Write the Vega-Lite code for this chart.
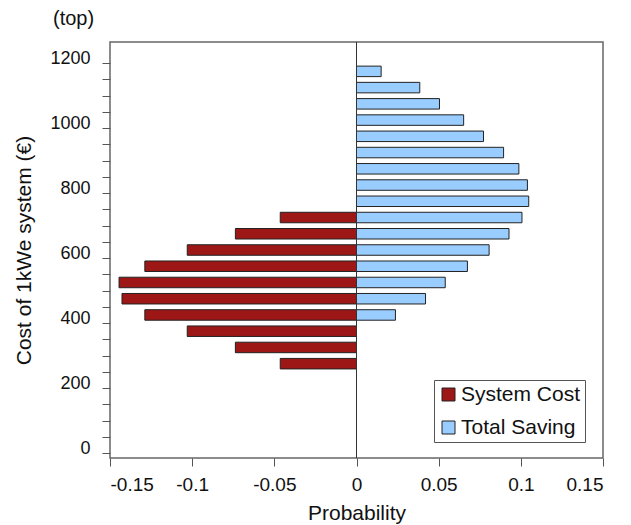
{
  "$schema": "https://vega.github.io/schema/vega-lite/v6.json",
  "width": 493,
  "height": 416,
  "autosize": {"type": "none"},
  "padding": {"left": 110, "top": 42, "right": 28, "bottom": 67},
  "title": {"text": "(top)", "anchor": "start", "frame": "group", "dx": -57, "offset": 13, "fontSize": 20, "fontWeight": "normal", "font": "Liberation Sans", "color": "#111"},
  "config": {
    "font": "Liberation Sans",
    "view": {"stroke": "#666", "strokeWidth": 1.5},
    "axis": {"labelFont": "Liberation Sans", "titleFont": "Liberation Sans", "labelColor": "#111", "titleColor": "#111", "domainColor": "#666", "tickColor": "#555", "grid": false, "titleFontWeight": "normal"}
  },
  "datasets": {
    "bars": [
      {"cost": 1175, "series": "Total Saving", "p": 0.0150},
      {"cost": 1125, "series": "Total Saving", "p": 0.0385},
      {"cost": 1075, "series": "Total Saving", "p": 0.0505},
      {"cost": 1025, "series": "Total Saving", "p": 0.0652},
      {"cost": 975, "series": "Total Saving", "p": 0.0773},
      {"cost": 925, "series": "Total Saving", "p": 0.0895},
      {"cost": 875, "series": "Total Saving", "p": 0.0988},
      {"cost": 825, "series": "Total Saving", "p": 0.1040},
      {"cost": 775, "series": "Total Saving", "p": 0.1048},
      {"cost": 725, "series": "Total Saving", "p": 0.1007},
      {"cost": 675, "series": "Total Saving", "p": 0.0928},
      {"cost": 625, "series": "Total Saving", "p": 0.0807},
      {"cost": 575, "series": "Total Saving", "p": 0.0675},
      {"cost": 525, "series": "Total Saving", "p": 0.0540},
      {"cost": 475, "series": "Total Saving", "p": 0.0420},
      {"cost": 425, "series": "Total Saving", "p": 0.0237},
      {"cost": 725, "series": "System Cost", "p": -0.0464},
      {"cost": 675, "series": "System Cost", "p": -0.0737},
      {"cost": 625, "series": "System Cost", "p": -0.1030},
      {"cost": 575, "series": "System Cost", "p": -0.1288},
      {"cost": 525, "series": "System Cost", "p": -0.1445},
      {"cost": 475, "series": "System Cost", "p": -0.1427},
      {"cost": 425, "series": "System Cost", "p": -0.1288},
      {"cost": 375, "series": "System Cost", "p": -0.1030},
      {"cost": 325, "series": "System Cost", "p": -0.0737},
      {"cost": 275, "series": "System Cost", "p": -0.0464}
    ],
    "zero": [{"x": 0}]
  },
  "layer": [
    {
      "data": {"name": "bars"},
      "mark": {"type": "bar", "orient": "horizontal", "size": 10.5, "stroke": "#222", "strokeWidth": 1},
      "encoding": {
        "y": {"field": "cost", "type": "quantitative", "scale": {"domain": [0, 1250], "nice": false, "zero": true},
          "axis": {"title": "Cost of 1kWe system (€)", "values": [0,50,100,150,200,250,300,350,400,450,500,550,600,650,700,750,800,850,900,950,1000,1050,1100,1150,1200],
            "labelExpr": "datum.value % 200 == 0 ? '' + datum.value : ''", "labelFontSize": 18, "titleFontSize": 21, "tickSize": 8, "labelPadding": 12, "labelOffset": -5, "titlePadding": 15, "domain": false}},
        "x": {"field": "p", "type": "quantitative", "scale": {"domain": [-0.15, 0.15], "nice": false},
          "axis": {"title": "Probability", "values": [-0.15, -0.1, -0.05, 0, 0.05, 0.1, 0.15], "labelExpr": "'' + datum.value", "labelFontSize": 19, "titleFontSize": 21, "tickSize": 8, "labelPadding": 9, "titlePadding": 8, "domain": false}},
        "color": {"field": "series", "type": "nominal", "scale": {"domain": ["System Cost", "Total Saving"], "range": ["#9e1717", "#99ccff"]},
          "legend": {"title": null, "orient": "none", "legendX": 324, "legendY": 338, "labelFontSize": 21, "labelColor": "#111", "symbolType": "square", "symbolSize": 169, "symbolStrokeColor": "#222", "symbolStrokeWidth": 1, "symbolOpacity": 1, "rowPadding": 11, "labelOffset": 2, "strokeColor": "#555", "padding": 4, "fillColor": "white"}}
      }
    },
    {
      "data": {"name": "zero"},
      "mark": {"type": "rule", "color": "#333", "strokeWidth": 1},
      "encoding": {"x": {"field": "x", "type": "quantitative"}}
    }
  ]
}
